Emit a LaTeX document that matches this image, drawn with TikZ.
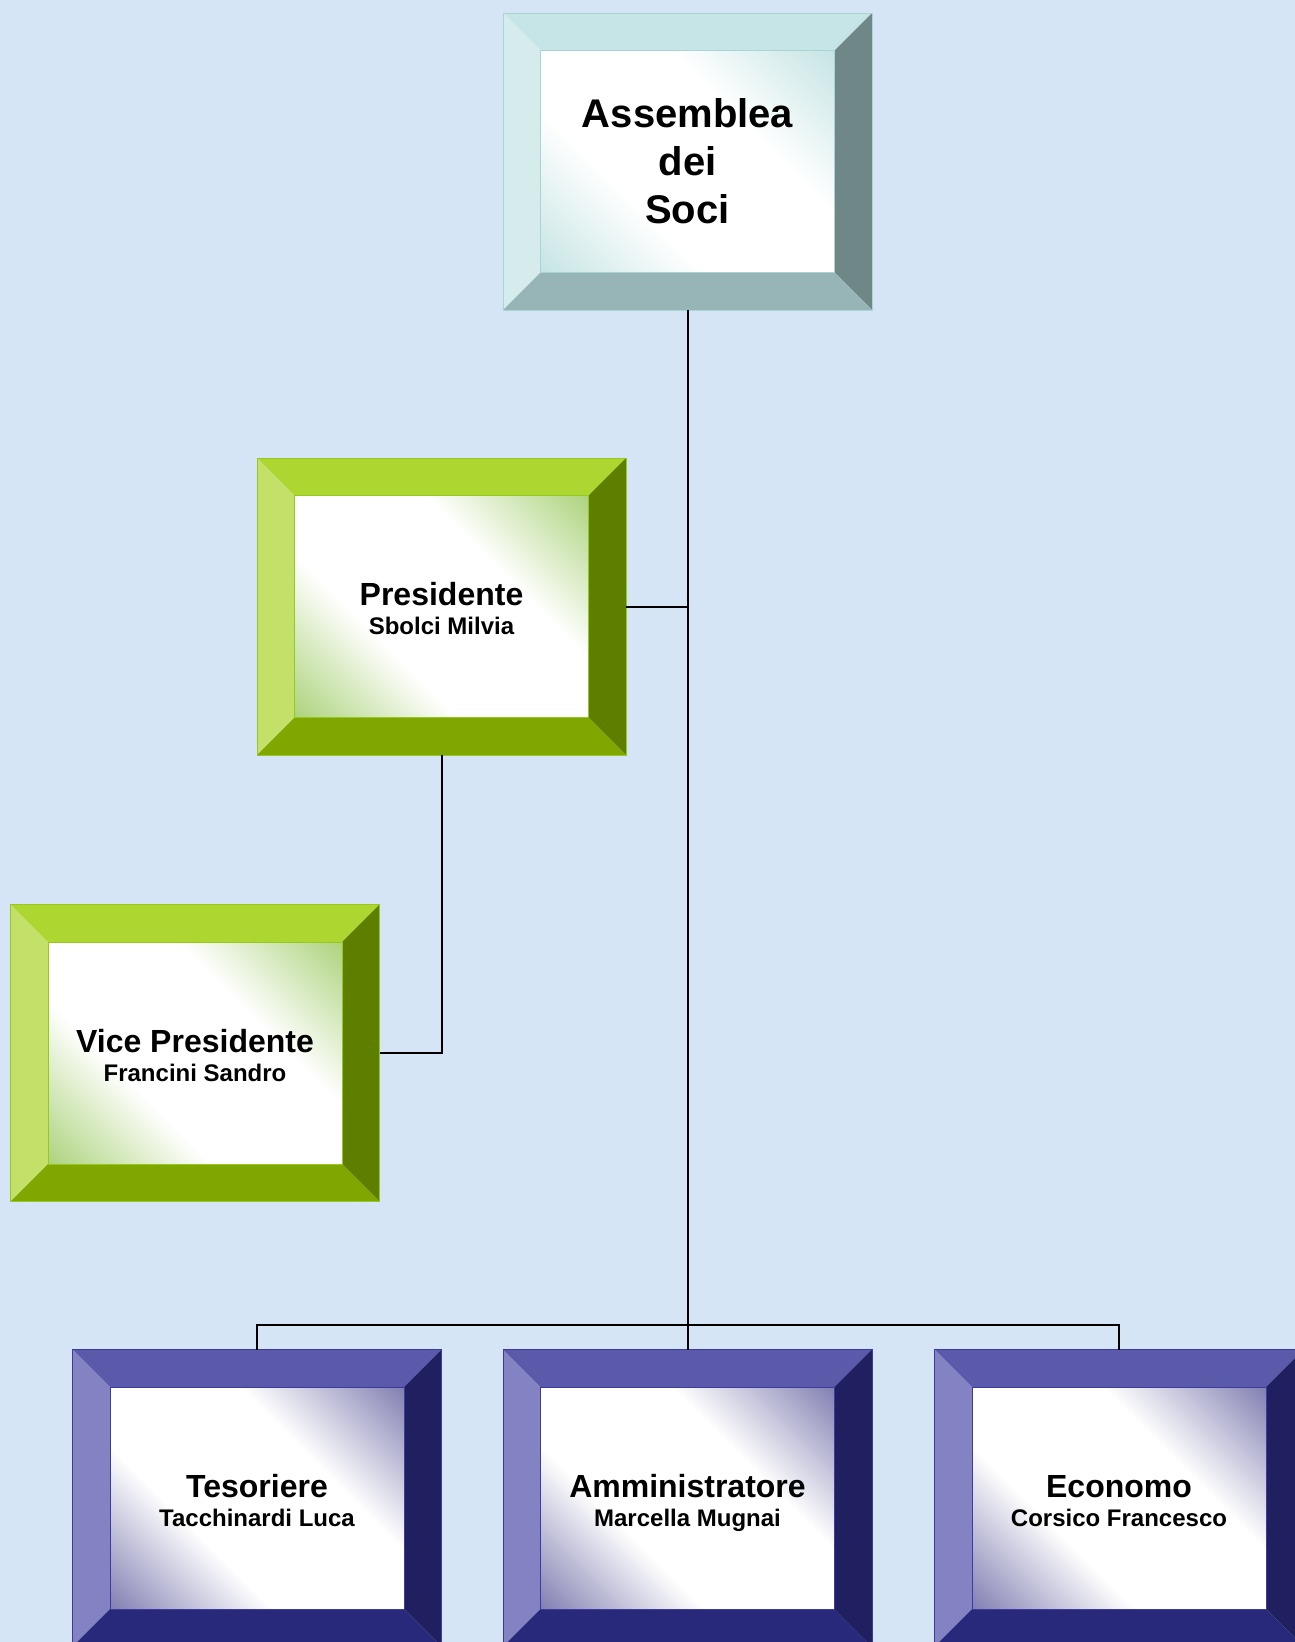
\documentclass[tikz,border=0pt]{standalone}
\usepackage{fontspec}
\setmainfont{Liberation Sans}
\definecolor{bgblue}{HTML}{D6E5F6}
\definecolor{tealtop}{HTML}{C6E5E6}
\definecolor{tealleft}{HTML}{D6ECEC}
\definecolor{tealright}{HTML}{6F8787}
\definecolor{tealbottom}{HTML}{97B4B6}
\definecolor{tealtint}{HTML}{C4E3E3}
\definecolor{tealline}{HTML}{A9D3D4}
\definecolor{greentop}{HTML}{ADD631}
\definecolor{greenleft}{HTML}{C3E068}
\definecolor{greenright}{HTML}{5E7E00}
\definecolor{greenbottom}{HTML}{7FA700}
\definecolor{greentint}{HTML}{ABD27A}
\definecolor{greenline}{HTML}{96C81E}
\definecolor{bluetop}{HTML}{5A59AA}
\definecolor{blueleft}{HTML}{8382C2}
\definecolor{blueright}{HTML}{201F5F}
\definecolor{bluebottom}{HTML}{29297B}
\definecolor{bluetint}{HTML}{7E7CB0}
\definecolor{blueline}{HTML}{3C3CA0}
\pgfdeclareverticalshading{tealgrad}{100bp}{color(0bp)=(tealtint); color(14bp)=(tealtint); color(37bp)=(white); color(63bp)=(white); color(86bp)=(tealtint); color(100bp)=(tealtint)}
\pgfdeclareverticalshading{greengrad}{100bp}{color(0bp)=(greentint); color(14bp)=(greentint); color(37bp)=(white); color(63bp)=(white); color(86bp)=(greentint); color(100bp)=(greentint)}
\pgfdeclareverticalshading{bluegrad}{100bp}{color(0bp)=(bluetint); color(14bp)=(bluetint); color(37bp)=(white); color(63bp)=(white); color(86bp)=(bluetint); color(100bp)=(bluetint)}
\tikzset{
  boxtext/.style={rectangle, minimum width=369pt, minimum height=297pt,
    inner sep=0pt, outer sep=0pt, line width=0.8pt, align=center, text=black},
  connector/.style={line width=2pt, draw=black},
  titlefont/.style={font=\fontsize{40}{48}\selectfont\bfseries},
  rolefont/.style={font=\fontsize{24}{29}\selectfont\bfseries}
}
\newcommand{\rolehead}[1]{{\fontsize{32}{29}\selectfont\rule{0pt}{34pt}#1}}
\newcommand{\rolename}[1]{#1\rule[-7pt]{0pt}{7pt}}
\newcommand{\bevelbox}[6]{%
  \pgfmathsetmacro\bxa{#2-184.5}%
  \pgfmathsetmacro\bxb{#2+184.5}%
  \pgfmathsetmacro\bya{#3-148.5}%
  \pgfmathsetmacro\byb{#3+148.5}%
  \pgfmathsetmacro\bxc{\bxa+37.5}%
  \pgfmathsetmacro\bxd{\bxb-37.5}%
  \pgfmathsetmacro\byc{\bya+37.5}%
  \pgfmathsetmacro\byd{\byb-37.5}%
  \fill[#4top] (\bxa,\bya) -- (\bxb,\bya) -- (\bxd,\byc) -- (\bxc,\byc) -- cycle;
  \fill[#4left] (\bxa,\bya) -- (\bxc,\byc) -- (\bxc,\byd) -- (\bxa,\byb) -- cycle;
  \fill[#4right] (\bxb,\bya) -- (\bxb,\byb) -- (\bxd,\byd) -- (\bxd,\byc) -- cycle;
  \fill[#4bottom] (\bxa,\byb) -- (\bxc,\byd) -- (\bxd,\byd) -- (\bxb,\byb) -- cycle;
  \shadedraw[shading=#4grad, shading angle=-45, draw=#4line, line width=0.8pt] (\bxc,\byc) rectangle (\bxd,\byd);
  \node[boxtext, draw=#4line, #6] (#1) at (#2,#3) {#5};
}
\begin{document}
\begin{tikzpicture}[x=1pt,y=-1pt]
\fill[bgblue] (0,0) rectangle (1295,1642);
\useasboundingbox (0,0) rectangle (1295,1642);
\bevelbox{top}{687.5}{161.5}{teal}{Assemblea\\ dei\\ Soci}{titlefont}
\bevelbox{pres}{441.5}{606.5}{green}{\rolehead{Presidente}\\ \rolename{Sbolci Milvia}}{rolefont}
\bevelbox{vice}{195}{1053}{green}{\rolehead{Vice Presidente}\\ \rolename{Francini Sandro}}{rolefont}
\bevelbox{tes}{257}{1498}{blue}{\rolehead{Tesoriere}\\ \rolename{Tacchinardi Luca}}{rolefont}
\bevelbox{amm}{687.5}{1498}{blue}{\rolehead{Amministratore}\\ \rolename{Marcella Mugnai}}{rolefont}
\bevelbox{econ}{1119}{1498}{blue}{\rolehead{Economo}\\ \rolename{Corsico Francesco}}{rolefont}
\coordinate (bus) at (687.5,1325);
\draw[connector] (top.south) -- (amm.north);
\draw[connector] (pres.east) -- (pres.east -| top.south);
\draw[connector] (pres.south) |- (vice.east);
\draw[connector] (tes.north) |- (bus) -| (econ.north);
\end{tikzpicture}
\end{document}
